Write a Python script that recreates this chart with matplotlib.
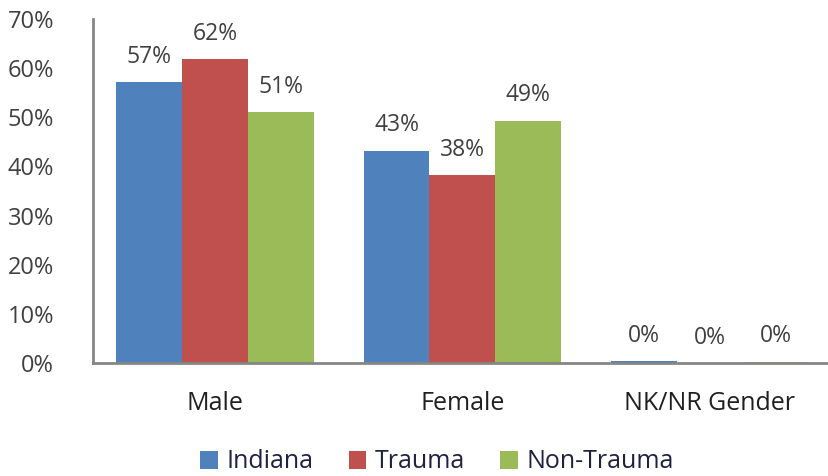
import matplotlib
matplotlib.use("Agg")
import matplotlib.pyplot as plt
import numpy as np

categories = ["Male", "Female", "NK/NR Gender"]
series_names = ["Indiana", "Trauma", "Non-Trauma"]
indiana = [57.2, 43.2, 0.4]
trauma = [61.9, 38.3, 0.0]
non_trauma = [51.1, 49.3, 0.3]
labels = [["57%", "43%", "0%"], ["62%", "38%", "0%"], ["51%", "49%", "0%"]]
colors = ["#4F81BD", "#C0504D", "#9BBB59"]
yticks = [0, 10, 20, 30, 40, 50, 60, 70]

plt.rcParams['font.family'] = ['Open Sans', 'DejaVu Sans']
fig = plt.figure(figsize=(8.29, 4.76), dpi=100)
ax = fig.add_axes([93/829, 1-363/476, 1-93/829, 344/476])

x = np.arange(len(categories))
w = 0.266
data = [indiana, trauma, non_trauma]
for i, (vals, name, c) in enumerate(zip(data, series_names, colors)):
    bars = ax.bar(x + (i-1)*w, vals, width=w, color=c, label=name)
    for b, lab in zip(bars, labels[i]):
        ax.text(b.get_x()+b.get_width()/2, b.get_height()+2.7, lab,
                ha='center', va='bottom', fontsize=16.5, color='#404040')

ax.set_ylim(0, 70)
ax.set_xlim(-0.493, 2.482)
ax.set_yticks(yticks)
ax.set_yticklabels([f"{t}%" for t in yticks], fontsize=17, color='#404040')
ax.set_xticks(x)
ax.set_xticklabels(categories, fontsize=18, color='#202020')
ax.tick_params(axis='y', length=0, pad=28)
ax.tick_params(axis='x', length=0, pad=20)
for s in ['top', 'right']:
    ax.spines[s].set_visible(False)
for s in ['left', 'bottom']:
    ax.spines[s].set_color('#868686')
    ax.spines[s].set_linewidth(2)

leg = fig.legend(loc='center', bbox_to_anchor=(437/829, 1-462/476), ncol=3,
                 frameon=False, fontsize=18, handlelength=0.7, handleheight=0.7,
                 handletextpad=0.35, columnspacing=1.4)
for t in leg.get_texts():
    t.set_color('#202040')
fig.savefig("out.png", dpi=100)
